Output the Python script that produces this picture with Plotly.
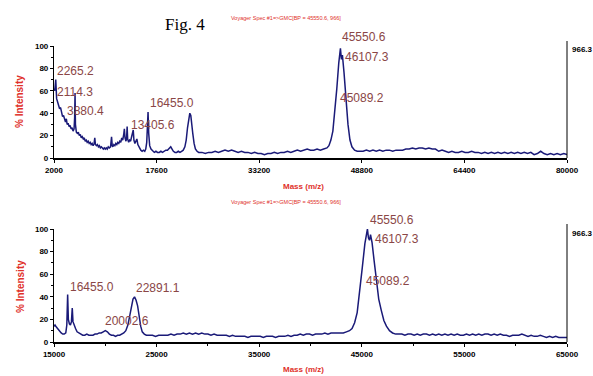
import plotly.graph_objects as go

W, H = 593, 376

# ---------------- data ----------------
top_mass = [2000, 2114, 2265, 2400, 2550, 2700, 2850, 3000, 3150, 3300, 3450, 3600, 3750, 3880, 4000,
            4150, 4300, 4450, 4600, 4750, 4900, 5050, 5140, 5200, 5260, 5400, 5550, 5700, 5850, 6000,
            6150, 6300, 6450, 6600, 6750, 6900, 7050, 7200, 7350, 7500, 7650, 7800, 7950, 8100, 8200,
            8300, 8450, 8600, 8750, 8900, 9050, 9200, 9350, 9500, 9650, 9800, 9950, 10100, 10250, 10400,
            10600, 10750, 10850, 10950, 11100, 11250, 11400, 11550, 11700, 11850, 12000, 12150, 12300,
            12450, 12600, 12700, 12800, 12950, 13050, 13120, 13200, 13350, 13500, 13650, 13800, 13950,
            14050, 14150, 14300, 14450, 14600, 14750, 14900, 15050, 15200, 15400, 15600, 15800, 15950,
            16100, 16200, 16300, 16400, 16550, 16750, 17000, 17250, 17500, 17750, 18000, 18250, 18500,
            18750, 19000, 19250, 19500, 19750, 19950, 20150, 20400, 20650, 20900, 21150, 21400, 21650,
            21900, 22100, 22300, 22500, 22650, 22800, 22950, 23100, 23300, 23500, 23750, 24000,
            24500, 25000, 25500, 26000, 26500, 27000, 27500, 28000, 28500, 29000, 29500, 30000, 30500,
            31000, 31500, 32000, 32500, 33000, 33500, 34000, 34500, 35000, 35500, 36000, 36500, 37000,
            37500, 38000, 38500, 39000, 39500, 40000, 40500, 41000, 41500, 42000, 42500, 43000, 43500,
            43800, 44100, 44400, 44700, 45000, 45300, 45550, 45700, 45850, 46100, 46400, 46700, 47000,
            47300, 47700, 48100, 48500, 49000, 49500, 50000, 50500, 51000, 51500, 52000, 52500, 53000,
            53500, 54000, 54500, 55000, 55500, 56000, 56500, 57000, 57500, 58000, 58500, 59000, 59500,
            60000, 60500, 61000, 61500, 62000, 62500, 63000, 63500, 64000, 64500, 65000, 65500, 66000,
            66500, 67000, 67500, 68000, 68500, 69000, 69500, 70000, 70500, 71000, 71500, 72000, 72500,
            73000, 73500, 74000, 74500, 75000, 75500, 76000, 76500, 77000, 77500, 78000, 78500, 79000,
            79500, 80000]
top_int = [62, 60, 70, 53, 50, 47, 44, 45, 39, 37, 38, 34, 32, 35, 30,
           31, 28, 29, 26, 27, 24, 26, 36, 58, 30, 23, 22, 23, 20, 21,
           18, 19, 17, 18, 15, 16, 14, 15, 13, 14, 12, 13, 11, 13, 18,
           12, 11, 12, 10, 11, 9, 10, 9, 8, 9, 8, 9, 8, 10, 9,
           10, 19, 11, 10, 12, 11, 13, 12, 14, 13, 15, 14, 18,
           16, 21, 26, 18, 15, 19, 28, 17, 14, 16, 15, 19, 22,
           25, 16, 13, 15, 17, 12, 10, 9, 7, 6, 7, 6, 8,
           14, 30, 41, 22, 11, 8, 6, 5, 6, 5, 5, 6, 5,
           6, 7, 7, 9, 10, 8, 6, 5, 5, 6, 5, 6, 7,
           10, 16, 27, 36, 40, 38, 32, 22, 13, 8, 6, 5,
           5, 4, 5, 5, 6, 5, 6, 7, 6, 7, 6, 5, 6,
           5, 5, 4, 5, 4, 4, 3, 4, 4, 5, 4, 5, 5,
           6, 5, 6, 7, 6, 7, 8, 7, 7, 8, 7, 8, 9,
           11, 16, 24, 40, 62, 85, 98, 88, 92, 76, 52, 30, 16,
           10, 7, 6, 6, 6, 7, 6, 7, 6, 7, 6, 7, 7,
           6, 7, 7, 7, 8, 8, 9, 8, 9, 9, 8, 9, 8,
           8, 6, 7, 6, 5, 6, 5, 5, 6, 5, 5, 6, 5,
           5, 4, 5, 4, 5, 4, 5, 4, 5, 4, 5, 4, 5,
           4, 5, 4, 5, 3, 4, 6, 4, 3, 4, 3, 4, 3,
           4, 3]

bot_mass = [15000, 15100, 15250, 15400, 15550, 15700, 15850, 16000, 16150, 16250, 16330, 16400, 16500,
            16600, 16700, 16780, 16850, 16950, 17100, 17250, 17400, 17600, 17800, 18000, 18200, 18400,
            18600, 18800, 19000, 19200, 19400, 19600, 19800, 20000, 20200, 20400, 20600, 20800, 21000,
            21200, 21400, 21600, 21800, 22000, 22200, 22400, 22550, 22700, 22850, 23000, 23150, 23300,
            23450, 23600, 23800, 24000, 24300, 24600, 24900, 25200, 25500, 25800, 26100, 26400, 26700,
            27000, 27300, 27600, 27900, 28200, 28500, 28800, 29100, 29400, 29700, 30000, 30300, 30600,
            30900, 31200, 31500, 31800, 32100, 32400, 32700, 33000, 33300, 33600, 33900, 34200, 34500,
            34800, 35100, 35400, 35700, 36000, 36300, 36600, 36900, 37200, 37500, 37800, 38100, 38400,
            38700, 39000, 39300, 39600, 39900, 40200, 40500, 40800, 41100, 41400, 41700, 42000, 42300,
            42600, 42900, 43200, 43500, 43800, 44050, 44300, 44550, 44800, 45050, 45300, 45450, 45550,
            45650, 45750, 45850, 46000, 46200, 46400, 46650, 46900, 47150, 47400, 47700, 48000, 48300,
            48600, 48900, 49200, 49500, 49800, 50100, 50400, 50700, 51000, 51300, 51600, 51900, 52200,
            52500, 52800, 53100, 53400, 53700, 54000, 54300, 54600, 54900, 55200, 55500, 55800, 56100,
            56400, 56700, 57000, 57300, 57600, 57900, 58200, 58500, 58800, 59100, 59400, 59700, 60000,
            60300, 60600, 60900, 61200, 61500, 61800, 62100, 62400, 62700, 63000, 63300, 63600, 63900,
            64200, 64500, 64800, 65000]
bot_int = [14, 15, 13, 11, 9, 8, 7, 7, 8, 15, 42, 20, 16,
           15, 18, 30, 18, 15, 12, 9, 8, 7, 6, 6, 7, 6,
           6, 6, 7, 7, 8, 8, 9, 10, 9, 7, 6, 6, 5,
           6, 6, 7, 8, 10, 15, 24, 33, 38, 40, 37, 32, 22,
           14, 9, 7, 6, 6, 6, 5, 6, 6, 6, 6, 7, 6,
           7, 7, 8, 7, 8, 7, 8, 7, 8, 7, 7, 6, 7,
           6, 6, 6, 6, 5, 6, 5, 5, 5, 5, 4, 5, 5,
           5, 5, 4, 5, 5, 5, 4, 5, 5, 5, 6, 5, 6,
           6, 7, 6, 7, 7, 6, 7, 7, 7, 8, 7, 8, 8,
           8, 8, 8, 9, 10, 12, 17, 26, 44, 66, 87, 96, 100,
           92, 90, 95, 88, 72, 55, 38, 28, 19, 14, 10, 8, 7,
           7, 7, 6, 7, 7, 6, 7, 6, 7, 7, 6, 7, 6,
           7, 6, 7, 6, 7, 6, 7, 6, 6, 7, 6, 7, 6,
           7, 6, 7, 7, 6, 7, 6, 7, 6, 6, 5, 6, 6,
           6, 7, 6, 5, 6, 5, 5, 6, 5, 4, 5, 4, 5,
           4, 4, 4, 4]

top_ticks = [2000, 17600, 33200, 48800, 64400, 80000]
bot_ticks = [15000, 25000, 35000, 45000, 55000, 65000]
y_ticks = [0, 20, 40, 60, 80, 100]

top_peak_labels = ["2265.2", "2114.3", "3880.4", "13405.6", "16455.0", "45550.6", "46107.3", "45089.2"]
bot_peak_labels = ["16455.0", "22891.1", "20002.6", "45550.6", "46107.3", "45089.2"]
base_peak = "966.3"
header = "Voyager Spec #1=>GMC[BP = 45550.6, 966]"

# ---------------- layout helpers ----------------
def fx(p):
    return p / W

def fy(p):
    return 1 - p / H

top_label_pos = [(55, 71), (55, 92), (65, 111), (129, 125), (148, 103), (340, 37), (343, 57), (338, 98)]
bot_label_pos = [(68, 287), (134, 288), (103, 321), (368, 220), (373, 239), (364, 281)]

line_col = "#1a1a78"
lab_col = "#8a4646"
red = "#e0302a"

fig = go.Figure()
fig.add_trace(go.Scatter(x=top_mass, y=top_int, mode="lines", xaxis="x", yaxis="y",
                         line=dict(color=line_col, width=1.5), showlegend=False))
fig.add_trace(go.Scatter(x=bot_mass, y=bot_int, mode="lines", xaxis="x2", yaxis="y2",
                         line=dict(color=line_col, width=1.5), showlegend=False))

xd = [fx(54), fx(567)]
tickf = dict(family="Liberation Sans", size=8, color="black", weight="bold")

common_x = dict(showline=True, linecolor="black", linewidth=2, ticks="outside", ticklen=3,
                tickcolor="black", showgrid=False, zeroline=False, tickfont=tickf,
                tickformat="d", automargin=False)
common_y = dict(showline=True, linecolor="black", linewidth=1.2, ticks="outside", ticklen=3,
                tickcolor="black", showgrid=False, zeroline=False, tickfont=tickf,
                range=[0, 100], tickvals=y_ticks, automargin=False,
                minor=dict(ticks="outside", ticklen=2, dtick=10, tickcolor="black"))

annotations = []
for t, (x, y) in zip(top_peak_labels, top_label_pos):
    annotations.append(dict(text=t, x=fx(x), y=fy(y), xref="paper", yref="paper", xanchor="left",
                            yanchor="middle", showarrow=False,
                            font=dict(family="Liberation Sans", size=12, color=lab_col)))
for t, (x, y) in zip(bot_peak_labels, bot_label_pos):
    annotations.append(dict(text=t, x=fx(x), y=fy(y), xref="paper", yref="paper", xanchor="left",
                            yanchor="middle", showarrow=False,
                            font=dict(family="Liberation Sans", size=12, color=lab_col)))

for ycen in (102, 287):
    annotations.append(dict(text="% Intensity", x=fx(20), y=fy(ycen), xref="paper", yref="paper",
                            textangle=-90, showarrow=False, xanchor="center", yanchor="middle",
                            font=dict(family="Liberation Sans", size=10, color=red, weight="bold")))
for ycen in (186, 369):
    annotations.append(dict(text="Mass (m/z)", x=fx(303), y=fy(ycen), xref="paper", yref="paper",
                            showarrow=False, xanchor="center", yanchor="middle",
                            font=dict(family="Liberation Sans", size=8, color=red, weight="bold")))
for ycen in (18, 202):
    annotations.append(dict(text=header, x=fx(229), y=fy(ycen), xref="paper", yref="paper",
                            showarrow=False, xanchor="left", yanchor="middle",
                            font=dict(family="Liberation Sans", size=5.5, color=red)))
for ycen in (49, 233):
    annotations.append(dict(text=base_peak, x=fx(570), y=fy(ycen), xref="paper", yref="paper",
                            showarrow=False, xanchor="left", yanchor="middle",
                            font=dict(family="Liberation Sans", size=8, color="black", weight="bold")))
annotations.append(dict(text="Fig. 4", x=fx(185), y=fy(25), xref="paper", yref="paper",
                        showarrow=False, xanchor="center", yanchor="middle",
                        font=dict(family="Liberation Serif", size=17, color="black")))

shapes = [
    dict(type="line", xref="paper", yref="paper", x0=fx(567), x1=fx(567), y0=fy(158), y1=fy(41),
         line=dict(color="black", width=1)),
    dict(type="line", xref="paper", yref="paper", x0=fx(567), x1=fx(567), y0=fy(342), y1=fy(224),
         line=dict(color="black", width=1)),
]

fig.update_layout(
    width=W, height=H, margin=dict(l=0, r=0, t=0, b=0, autoexpand=False),
    paper_bgcolor="white", plot_bgcolor="white", showlegend=False,
    xaxis=dict(domain=xd, anchor="y", range=[2000, 80000], tickvals=top_ticks, **common_x),
    yaxis=dict(domain=[fy(158), fy(46)], anchor="x", **common_y),
    xaxis2=dict(domain=xd, anchor="y2", range=[15000, 65000], tick0=15000, dtick=10000,
                minor=dict(ticks="outside", ticklen=2, dtick=5000, tickcolor="black"), **common_x),
    yaxis2=dict(domain=[fy(342), fy(229)], anchor="x2", **common_y),
    annotations=annotations, shapes=shapes,
)

fig.write_html("out.html")
